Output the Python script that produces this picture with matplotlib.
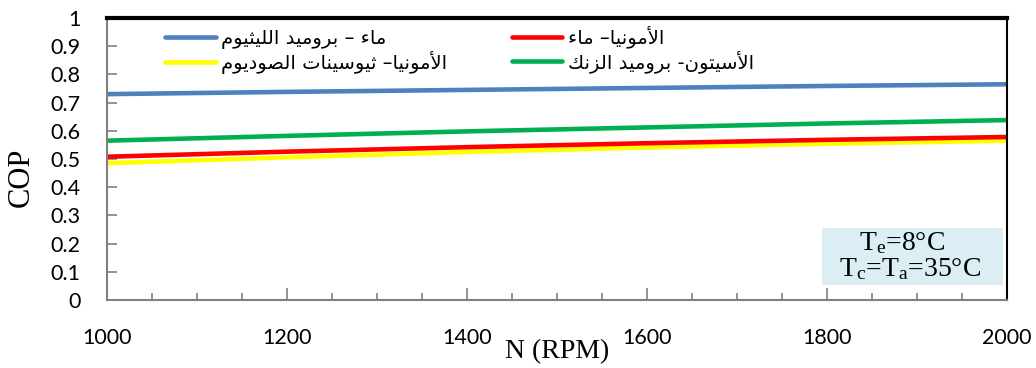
import matplotlib.pyplot as plt
import matplotlib.patches as patches
from matplotlib.ticker import MultipleLocator

# Data
rpm = [1000, 1200, 1400, 1600, 1800, 2000]
cop_water_libr = [0.730, 0.738, 0.745, 0.752, 0.759, 0.765]
cop_nh3_water = [0.508, 0.526, 0.542, 0.556, 0.568, 0.578]
cop_nh3_nascn = [0.485, 0.506, 0.525, 0.541, 0.554, 0.565]
cop_acetone_znbr = [0.565, 0.582, 0.598, 0.612, 0.626, 0.638]

labels = ['ماء – بروميد الليثيوم', 'الأمونيا– ماء',
          'الأمونيا– ثيوسينات الصوديوم', 'الأسيتون- بروميد الزنك']

# Simple Arabic shaping (presentation forms) + reverse for display
FORMS = {
    'ء': ('\uFE80', None, None, None),
    'أ': ('\uFE83', '\uFE84', None, None),
    'ا': ('\uFE8D', '\uFE8E', None, None),
    'ب': ('\uFE8F', '\uFE90', '\uFE91', '\uFE92'),
    'ت': ('\uFE95', '\uFE96', '\uFE97', '\uFE98'),
    'ث': ('\uFE99', '\uFE9A', '\uFE9B', '\uFE9C'),
    'د': ('\uFEA9', '\uFEAA', None, None),
    'ر': ('\uFEAD', '\uFEAE', None, None),
    'ز': ('\uFEAF', '\uFEB0', None, None),
    'س': ('\uFEB1', '\uFEB2', '\uFEB3', '\uFEB4'),
    'ص': ('\uFEB9', '\uFEBA', '\uFEBB', '\uFEBC'),
    'ك': ('\uFED9', '\uFEDA', '\uFEDB', '\uFEDC'),
    'ل': ('\uFEDD', '\uFEDE', '\uFEDF', '\uFEE0'),
    'م': ('\uFEE1', '\uFEE2', '\uFEE3', '\uFEE4'),
    'ن': ('\uFEE5', '\uFEE6', '\uFEE7', '\uFEE8'),
    'و': ('\uFEED', '\uFEEE', None, None),
    'ي': ('\uFEF1', '\uFEF2', '\uFEF3', '\uFEF4'),
}
LAM_ALEF = {'ا': ('\uFEFB', '\uFEFC'), 'أ': ('\uFEF7', '\uFEF8')}


def dual(c):
    return c in FORMS and FORMS[c][2] is not None


def joining(c):
    return c in FORMS and FORMS[c][1] is not None


def shape(text):
    out = []
    i, n = 0, len(text)
    while i < n:
        c = text[i]
        if c not in FORMS:
            out.append(c)
            i += 1
            continue
        jp = i > 0 and dual(text[i - 1]) and joining(c)
        if c == 'ل' and i + 1 < n and text[i + 1] in LAM_ALEF:
            lig = LAM_ALEF[text[i + 1]]
            out.append(lig[1] if jp else lig[0])
            i += 2
            continue
        jn = dual(c) and i + 1 < n and joining(text[i + 1])
        iso, fin, ini, med = FORMS[c]
        if jp and jn:
            f = med
        elif jp:
            f = fin
        elif jn:
            f = ini
        else:
            f = iso
        out.append(f)
        i += 1
    return ''.join(out)[::-1]


fig = plt.figure(figsize=(10.36, 3.68), dpi=100)
ax = fig.add_axes([107 / 1036, 1 - 300 / 368, 900 / 1036, 282 / 368])

kw = dict(lw=3.3, solid_capstyle='round')
ax.plot(rpm, cop_water_libr, color='#4F81BD', label=shape(labels[0]), **kw)
ax.plot(rpm, cop_nh3_nascn, color='#FFFF00', label=shape(labels[2]), **kw)
ax.plot(rpm, cop_nh3_water, color='#FF0000', label=shape(labels[1]), **kw)
ax.plot(rpm, cop_acetone_znbr, color='#00B050', label=shape(labels[3]), **kw)

ax.set_xlim(1000, 2000)
ax.set_ylim(0, 1)
ax.xaxis.set_major_locator(MultipleLocator(200))
ax.xaxis.set_minor_locator(MultipleLocator(50))
ax.set_yticks([i / 10 for i in range(11)])
ax.set_yticklabels(['0'] + ['0.%d' % i for i in range(1, 10)] + ['1'])

for s in ['left', 'bottom']:
    ax.spines[s].set_color('#808080')
    ax.spines[s].set_linewidth(1.5)
ax.spines['top'].set_color('black')
ax.spines['top'].set_linewidth(3)
ax.spines['right'].set_color('black')
ax.spines['right'].set_linewidth(1.5)

ax.tick_params(axis='x', which='major', direction='in', length=9, width=1.2,
               color='#808080', pad=20, labelsize=15.5)
ax.tick_params(axis='x', which='minor', direction='in', length=5, width=1.2,
               color='#808080')
ax.tick_params(axis='y', direction='in', length=7, width=1.2,
               color='#808080', pad=19, labelsize=15.5)
for lab in ax.get_xticklabels() + ax.get_yticklabels():
    lab.set_fontfamily('Lato')

fig.text(557 / 1036, 1 - 352 / 368, 'N (RPM)', family='Liberation Serif',
         fontsize=20, ha='center', va='center')
fig.text(21 / 1036, 1 - 177 / 368, 'COP', family='Liberation Serif',
         fontsize=22, ha='center', va='center', rotation=90)

# annotation box
box = patches.Rectangle(((822 - 107) / 900, (300 - 285) / 282), 181 / 900, 57 / 282,
                        transform=ax.transAxes, facecolor='#DAEEF3',
                        edgecolor='none', zorder=3)
ax.add_patch(box)
plt.rcParams['mathtext.fontset'] = 'stix'
ax.text((902 - 107) / 900, (300 - 243) / 282, r'$\mathregular{T_e}$=8°C',
        transform=ax.transAxes, family='Liberation Serif', fontsize=20,
        ha='center', va='center', zorder=4)
ax.text((910 - 107) / 900, (300 - 269) / 282, r'$\mathregular{T_c}$=$\mathregular{T_a}$=35°C',
        transform=ax.transAxes, family='Liberation Serif', fontsize=20,
        ha='center', va='center', zorder=4)

ax.legend(loc='upper left', bbox_to_anchor=(0.045, 1.035), ncol=2, frameon=False,
          prop={'family': 'DejaVu Sans', 'size': 14}, handlelength=2.6,
          handletextpad=0.3, columnspacing=3.3, labelspacing=0.1)

fig.savefig('out.png', dpi=100)
